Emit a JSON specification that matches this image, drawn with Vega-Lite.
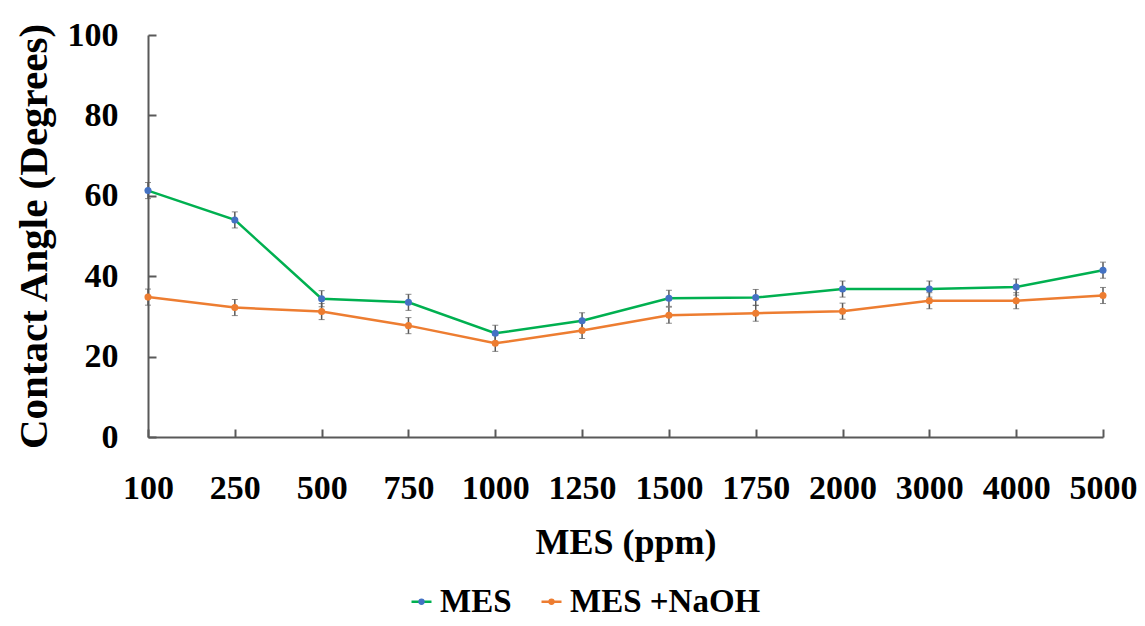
{
  "$schema": "https://vega.github.io/schema/vega-lite/v6.json",
  "width": 955,
  "height": 402,
  "autosize": {"type": "none"},
  "padding": {"left": 148, "top": 35, "right": 42, "bottom": 189},
  "background": "white",
  "config": {
    "view": {"stroke": null},
    "font": "Liberation Serif",
    "axis": {"grid": false, "domainColor": "#595959", "domainWidth": 2, "tickColor": "#595959", "tickWidth": 2, "labelFont": "Liberation Serif", "labelFontWeight": "bold", "labelColor": "black", "titleFont": "Liberation Serif", "titleFontWeight": "bold", "titleColor": "black"}
  },
  "data": {"values": [
    {"conc": "100", "series": "MES", "value": 61.3, "err": 2},
    {"conc": "250", "series": "MES", "value": 54.0, "err": 2},
    {"conc": "500", "series": "MES", "value": 34.4, "err": 2},
    {"conc": "750", "series": "MES", "value": 33.5, "err": 2},
    {"conc": "1000", "series": "MES", "value": 25.8, "err": 2},
    {"conc": "1250", "series": "MES", "value": 28.9, "err": 2},
    {"conc": "1500", "series": "MES", "value": 34.5, "err": 2},
    {"conc": "1750", "series": "MES", "value": 34.7, "err": 2},
    {"conc": "2000", "series": "MES", "value": 36.8, "err": 2},
    {"conc": "3000", "series": "MES", "value": 36.8, "err": 2},
    {"conc": "4000", "series": "MES", "value": 37.3, "err": 2},
    {"conc": "5000", "series": "MES", "value": 41.5, "err": 2},
    {"conc": "100", "series": "MES +NaOH", "value": 34.8, "err": 2},
    {"conc": "250", "series": "MES +NaOH", "value": 32.2, "err": 2},
    {"conc": "500", "series": "MES +NaOH", "value": 31.2, "err": 2},
    {"conc": "750", "series": "MES +NaOH", "value": 27.7, "err": 2},
    {"conc": "1000", "series": "MES +NaOH", "value": 23.3, "err": 2},
    {"conc": "1250", "series": "MES +NaOH", "value": 26.5, "err": 2},
    {"conc": "1500", "series": "MES +NaOH", "value": 30.3, "err": 2},
    {"conc": "1750", "series": "MES +NaOH", "value": 30.8, "err": 2},
    {"conc": "2000", "series": "MES +NaOH", "value": 31.3, "err": 2},
    {"conc": "3000", "series": "MES +NaOH", "value": 33.9, "err": 2},
    {"conc": "4000", "series": "MES +NaOH", "value": 33.9, "err": 2},
    {"conc": "5000", "series": "MES +NaOH", "value": 35.2, "err": 2}
  ]},
  "encoding": {
    "x": {"field": "conc", "type": "ordinal", "sort": null,
      "scale": {"type": "point", "padding": 0},
      "axis": {"title": "MES (ppm)", "labelAngle": 0, "labelFontSize": 34, "titleFontSize": 36, "tickSize": -8, "labelPadding": 42, "titlePadding": 20}},
    "y": {"field": "value", "type": "quantitative",
      "scale": {"domain": [0, 100]},
      "axis": {"title": "Contact Angle (Degrees)", "values": [0, 20, 40, 60, 80, 100], "labelFontSize": 34, "titleFontSize": 41, "tickSize": -8, "labelPadding": 38, "titlePadding": 12}}
  },
  "layer": [
    {
      "mark": {"type": "errorbar", "ticks": {"size": 6, "color": "#595959", "strokeWidth": 1.5}, "rule": {"color": "#595959", "strokeWidth": 1.5}},
      "encoding": {"y": {"field": "value", "type": "quantitative"}, "yError": {"field": "err"}, "detail": {"field": "series"}}
    },
    {
      "mark": {"type": "line", "strokeWidth": 2.5},
      "encoding": {
        "color": {"field": "series", "type": "nominal",
          "scale": {"domain": ["MES", "MES +NaOH"], "range": ["#00B050", "#ED7D31"]},
          "legend": {"title": null, "orient": "none", "legendX": 257, "legendY": 550, "direction": "horizontal", "symbolType": "stroke", "symbolSize": 400, "symbolStrokeWidth": 2.5, "labelFontSize": 33, "labelFont": "Liberation Serif", "labelFontWeight": "bold", "labelColor": "black", "labelLimit": 500, "columnPadding": 23, "labelOffset": 2}}
      }
    },
    {
      "mark": {"type": "point", "filled": true, "size": 50, "opacity": 1},
      "encoding": {
        "fill": {"field": "series", "type": "nominal",
          "scale": {"domain": ["MES", "MES +NaOH", "none"], "range": ["#4472C4", "#ED7D31", "#ffffff"]},
          "legend": {"title": null, "values": ["MES", "MES +NaOH"], "orient": "none", "legendX": 257, "legendY": 550, "direction": "horizontal", "symbolType": "circle", "symbolSize": 40, "symbolStrokeWidth": 0, "symbolOpacity": 1, "labelFontSize": 33, "labelFont": "Liberation Serif", "labelFontWeight": "bold", "labelColor": "transparent", "labelLimit": 500, "columnPadding": 23, "labelOffset": 2}}
      }
    }
  ]
}
